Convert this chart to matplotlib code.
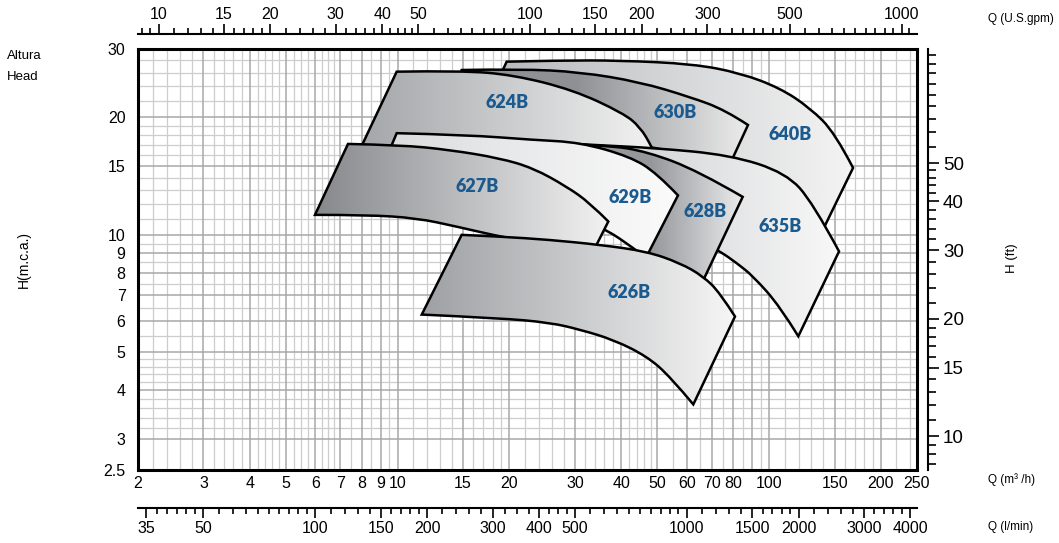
import numpy as np
import matplotlib
matplotlib.use("Agg")
import matplotlib.pyplot as plt
from matplotlib.image import AxesImage
from matplotlib.patches import PathPatch
from matplotlib.path import Path
from matplotlib.ticker import FixedLocator, NullFormatter, NullLocator
from matplotlib.colors import to_rgb

M3H_TO_GPM = 4.40287
M3H_TO_LMIN = 1000.0 / 60.0
M_TO_FT = 3.28084

# ---- pump ranges: upper and lower H-Q curves (Q in m3/h, H in m) ----
q_640_top = [19.65, 27.35, 39.67, 62.37, 83.46, 106.9, 128.8, 150.4, 168.2]
h_640_top = [27.76, 27.96, 27.96, 27.39, 25.97, 23.77, 21.13, 18.24, 14.84]
q_640_bot = [16.66, 39.67, 65.14, 94.48, 121.1, 138.7]
h_640_bot = [19.69, 18.56, 16.50, 14.50, 12.89, 10.18]

q_630_top = [14.87, 21.35, 30.96, 44.9, 61.23, 76.06, 87.71]
h_630_top = [26.43, 26.59, 26.12, 24.62, 22.54, 20.89, 19.11]
q_630_bot = [13.00, 25.71, 44.9, 65.14, 78.93]
h_630_bot = [19.11, 18.56, 16.99, 15.83, 15.38]

q_624_top = [9.94, 14.87, 20.48, 29.71, 40.49, 44.9, 48.29, 51.8]
h_624_top = [26.17, 26.33, 25.67, 23.49, 20.48, 18.90, 16.83, 14.67]
q_624_bot = [7.68, 13.83, 25.71, 37.29, 44.9]
h_624_bot = [15.56, 15.29, 14.50, 12.66, 10.61]

q_635_top = [24.16, 35.05, 48.68, 78.44, 111.0, 131.2, 154.2]
h_635_top = [17.30, 16.95, 16.70, 16.02, 14.41, 12.08, 9.07]
q_635_bot = [21.35, 35.05, 50.83, 65.14, 73.75, 81.77, 90.64, 106.9, 119.8]
h_635_bot = [13.04, 11.73, 10.55, 9.66, 9.07, 8.47, 7.83, 6.56, 5.50]

q_628_top = [21.35, 36.53, 47.2, 64.33, 84.87]
h_628_top = [17.30, 16.99, 16.31, 14.58, 12.51]
q_628_bot = [18.86, 27.35, 36.37, 43.0, 47.77, 64.27]
h_628_bot = [12.66, 11.45, 10.80, 9.71, 8.94, 7.15]

q_629_top = [9.94, 15.34, 23.18, 30.96, 42.21, 49.82, 56.83]
h_629_top = [18.21, 18.03, 17.50, 17.25, 15.86, 14.39, 12.62]
q_629_bot = [8.69, 13.83, 21.35, 29.10, 36.53, 43.0, 46.6]
h_629_bot = [13.43, 13.04, 12.29, 11.38, 10.30, 9.27, 8.74]

q_627_top = [7.35, 10.15, 13.83, 18.86, 23.18, 28.51, 32.94, 36.90]
h_627_top = [17.09, 16.99, 16.50, 15.71, 14.82, 13.29, 12.06, 10.82]
q_627_bot = [5.99, 8.25, 11.25, 14.42, 19.65, 25.71, 33.56]
h_627_bot = [11.25, 11.25, 11.04, 10.50, 9.81, 9.43, 9.05]

q_626_top = [14.87, 18.86, 25.71, 35.05, 46.81, 57.54, 66.47, 73.75, 80.91]
h_626_top = [10.00, 9.90, 9.71, 9.43, 9.07, 8.47, 7.83, 7.10, 6.18]
q_626_bot = [11.61, 18.86, 25.71, 30.96, 38.06, 46.81, 54.08, 62.49]
h_626_bot = [6.25, 6.12, 5.96, 5.72, 5.39, 4.89, 4.34, 3.68]

# where each model name sits (Q, H)
label_q = [113.8, 55.8, 19.65, 106.9, 67.19, 42.21, 16.32, 41.95]
label_h = [18.03, 20.52, 21.77, 10.50, 11.47, 12.44, 13.27, 7.11]

# back to front
models = ["640B", "630B", "624B", "635B", "628B", "629B", "627B", "626B"]
curves = [
    (q_640_top, h_640_top, q_640_bot, h_640_bot),
    (q_630_top, h_630_top, q_630_bot, h_630_bot),
    (q_624_top, h_624_top, q_624_bot, h_624_bot),
    (q_635_top, h_635_top, q_635_bot, h_635_bot),
    (q_628_top, h_628_top, q_628_bot, h_628_bot),
    (q_629_top, h_629_top, q_629_bot, h_629_bot),
    (q_627_top, h_627_top, q_627_bot, h_627_bot),
    (q_626_top, h_626_top, q_626_bot, h_626_bot),
]

# shading: dark colour, light colour, Q where the fade starts / ends
shading = {
    "640B": ("#b9bbbe", "#f4f4f4", 20, 168),
    "630B": ("#8e9094", "#ececec", 30, 88),
    "624B": ("#a4a6a9", "#f3f3f3", 8, 50),
    "635B": ("#d8d9db", "#f8f8f8", 50, 155),
    "628B": ("#95979b", "#ebebec", 48, 85),
    "629B": ("#dcdddf", "#fbfbfb", 10, 57),
    "627B": ("#86888c", "#f2f2f2", 6, 37),
    "626B": ("#9ea0a3", "#f6f6f6", 11.6, 81),
}

# axis ticks
q_ticks = [2, 3, 4, 5, 6, 7, 8, 9, 10, 15, 20, 30, 40, 50, 60, 70, 80, 100, 150, 200, 250]
h_ticks = [2.5, 3, 4, 5, 6, 7, 8, 9, 10, 15, 20, 30]
gpm_major = [10, 15, 20, 30, 40, 50, 100, 150, 200, 300, 500, 1000]
gpm_minor = [9, 9.5, 11, 12, 13, 14, 16, 17, 18, 19, 22, 24, 26, 28, 32, 34, 36, 38,
             42, 44, 46, 48, 55, 60, 65, 70, 75, 80, 85, 90, 95, 110, 120, 130, 140,
             160, 170, 180, 190, 220, 240, 260, 280, 325, 350, 375, 400, 425, 450, 475,
             550, 600, 650, 700, 750, 800, 850, 900, 950, 1050]
lmin_major = [35, 50, 100, 150, 200, 300, 400, 500, 1000, 1500, 2000, 3000, 4000]
lmin_minor = [37.5, 40, 42.5, 45, 47.5, 55, 60, 65, 70, 75, 80, 85, 90, 95,
              110, 120, 130, 140, 160, 170, 180, 190, 220, 240, 260, 280,
              325, 350, 375, 425, 450, 475, 550, 600, 650, 700, 750, 800, 850, 900, 950,
              1100, 1200, 1300, 1400, 1600, 1700, 1800, 1900, 2200, 2400, 2600, 2800,
              3200, 3400, 3600, 3800]
ft_major = [10, 15, 20, 30, 40, 50]
ft_minor = [8.5, 9, 9.5, 11, 12, 13, 14, 16, 17, 18, 19, 22, 24, 26, 28, 32, 34, 36, 38,
            42, 44, 46, 48, 55, 60, 65, 70, 75, 80, 85, 90, 95]

# log-paper grid
grid_q_major = [3, 4, 5, 6, 7, 8, 9, 10, 15, 20, 30, 40, 50, 60, 70, 80, 90, 100, 150, 200]
grid_q_minor = [2.2, 2.4, 2.6, 2.8, 3.2, 3.4, 3.6, 3.8, 4.2, 4.4, 4.6, 4.8,
                5.25, 5.5, 5.75, 6.25, 6.5, 6.75, 7.5, 8.5, 9.5,
                11, 12, 13, 14, 16, 17, 18, 19, 22, 24, 26, 28, 32, 34, 36, 38,
                42, 44, 46, 48, 55, 65, 75, 85, 95, 110, 120, 130, 140,
                160, 170, 180, 190, 220, 240]
grid_h_major = [3, 4, 5, 6, 7, 8, 9, 10, 15, 20]
grid_h_minor = [3.2, 3.4, 3.6, 3.8, 4.2, 4.4, 4.6, 4.8, 5.5, 6.5, 7.5, 8.5, 9.5,
                11, 12, 13, 14, 16, 17, 18, 19, 22, 24, 26, 28]

plt.rcParams["font.family"] = ["Liberation Sans", "DejaVu Sans"]

W, H = 1059, 543
fig = plt.figure(figsize=(W / 100, H / 100), dpi=100)
ax = fig.add_axes([138 / W, 1 - 470 / H, 779 / W, 421.5 / H])
ax.set_xscale("log")
ax.set_yscale("log")
ax.set_xlim(2, 250)
ax.set_ylim(2.5, 30)
ax.set_autoscale_on(False)

for v in grid_q_minor:
    ax.axvline(v, color="#cdcdcd", lw=0.9, zorder=0.5)
for v in grid_h_minor:
    ax.axhline(v, color="#cdcdcd", lw=0.9, zorder=0.5)
for v in grid_q_major:
    ax.axvline(v, color="#a8a8a8", lw=1.1, zorder=0.6)
for v in grid_h_major:
    ax.axhline(v, color="#a8a8a8", lw=1.1, zorder=0.6)

ax.set_xticks(q_ticks, labels=[f"{v:g}" for v in q_ticks])
ax.set_yticks(h_ticks, labels=[f"{v:g}" for v in h_ticks])
ax.xaxis.set_minor_locator(NullLocator())
ax.yaxis.set_minor_locator(NullLocator())
ax.tick_params(axis="x", length=0, pad=4, labelsize=11.5)
ax.tick_params(axis="y", length=0, pad=9, labelsize=11.5)
for sp in ax.spines.values():
    sp.set_linewidth(2.2)
    sp.set_zorder(10)


def x_frac(q):
    return ax.transAxes.inverted().transform(ax.transData.transform((q, 10.0)))[0]


def smooth_run(qs, hs):
    """Quadratic-bezier run through the curve points (midpoints taken in log space)."""
    verts, codes = [], []
    n = len(qs)
    if n == 2:
        return [(qs[1], hs[1])], [Path.LINETO]
    for i in range(1, n - 1):
        if i == n - 2:
            end = (qs[-1], hs[-1])
        else:
            end = (np.sqrt(qs[i] * qs[i + 1]), np.sqrt(hs[i] * hs[i + 1]))
        verts += [(qs[i], hs[i]), end]
        codes += [Path.CURVE3, Path.CURVE3]
    return verts, codes


def family_path(qt, ht, qb, hb):
    verts = [(qt[0], ht[0])]
    codes = [Path.MOVETO]
    v, c = smooth_run(qt, ht)
    verts += v
    codes += c
    qr, hr = list(qb)[::-1], list(hb)[::-1]
    verts.append((qr[0], hr[0]))
    codes.append(Path.LINETO)
    v, c = smooth_run(qr, hr)
    verts += v
    codes += c
    verts.append((qt[0], ht[0]))
    codes.append(Path.CLOSEPOLY)
    return Path(verts, codes)


xs = np.linspace(0, 1, 1200)
for i, (name, (qt, ht, qb, hb)) in enumerate(zip(models, curves)):
    z = 2 + i * 0.01
    outline = PathPatch(family_path(qt, ht, qb, hb), facecolor="none",
                        edgecolor="black", lw=1.8, joinstyle="miter", zorder=z + 0.005)
    ax.add_patch(outline)

    c0, c1, g0, g1 = shading[name]
    f0, f1 = x_frac(g0), x_frac(g1)
    t = np.clip((xs - f0) / (f1 - f0), 0, 1)[:, None]
    rgb = np.array(to_rgb(c0)) * (1 - t) + np.array(to_rgb(c1)) * t
    im = AxesImage(ax, extent=(0, 1, 0, 1), transform=ax.transAxes,
                   interpolation="bilinear", zorder=z)
    im.set_data(rgb[None, :, :])
    ax.add_image(im)
    im.set_clip_path(outline)

for name, q, h in zip(models, label_q, label_h):
    ax.text(q, h, name, ha="center", va="center", fontsize=13,
            fontweight="heavy", family=["Lato", "DejaVu Sans"], color="#1a5a8e", zorder=5)

# secondary scales
gpm = ax.secondary_xaxis(1.0337, functions=(lambda q: q * M3H_TO_GPM,
                                            lambda g: g / M3H_TO_GPM))
gpm.set_ticks(gpm_major, labels=[str(v) for v in gpm_major])
gpm.xaxis.set_minor_locator(FixedLocator(gpm_minor))
gpm.xaxis.set_minor_formatter(NullFormatter())
gpm.tick_params(which="major", length=7, width=1.2, pad=2, labelsize=11.5)
gpm.tick_params(which="minor", length=4, width=1.2)
for sp in gpm.spines.values():
    sp.set_linewidth(1.5)

lmin = ax.secondary_xaxis(-0.0902, functions=(lambda q: q * M3H_TO_LMIN,
                                              lambda l: l / M3H_TO_LMIN))
lmin.set_ticks(lmin_major, labels=[str(v) for v in lmin_major])
lmin.xaxis.set_minor_locator(FixedLocator(lmin_minor))
lmin.xaxis.set_minor_formatter(NullFormatter())
lmin.tick_params(which="major", length=7, width=1.2, pad=2, labelsize=11.5)
lmin.tick_params(which="minor", length=4, width=1.2)
for sp in lmin.spines.values():
    sp.set_linewidth(1.5)

ft = ax.secondary_yaxis(1.0137, functions=(lambda h: h * M_TO_FT,
                                           lambda f: f / M_TO_FT))
ft.set_ticks(ft_major, labels=[str(v) for v in ft_major])
ft.yaxis.set_minor_locator(FixedLocator(ft_minor))
ft.yaxis.set_minor_formatter(NullFormatter())
ft.tick_params(which="major", length=8, width=1.2, pad=3, labelsize=13.5)
ft.tick_params(which="minor", length=6, width=1.2)
for sp in ft.spines.values():
    sp.set_linewidth(1.5)

# axis captions
fig.text(988 / W, 1 - 19 / H, "Q (U.S.gpm)", fontsize=8.5, va="center", ha="left")
fig.text(988 / W, 1 - 480 / H, "Q (m³ /h)", fontsize=8.5, va="center", ha="left")
fig.text(988 / W, 1 - 527 / H, "Q (l/min)", fontsize=8.5, va="center", ha="left")
fig.text(1012 / W, 1 - 258 / H, "H (ft)", fontsize=9.5, rotation=90, va="center", ha="center")
fig.text(24 / W, 1 - 260 / H, "H(m.c.a.)", fontsize=10, rotation=90, va="center", ha="center")
fig.text(7 / W, 1 - 56 / H, "Altura", fontsize=9.5, va="center", ha="left")
fig.text(7 / W, 1 - 77 / H, "Head", fontsize=9.5, va="center", ha="left")

fig.savefig("out.png", dpi=100)
